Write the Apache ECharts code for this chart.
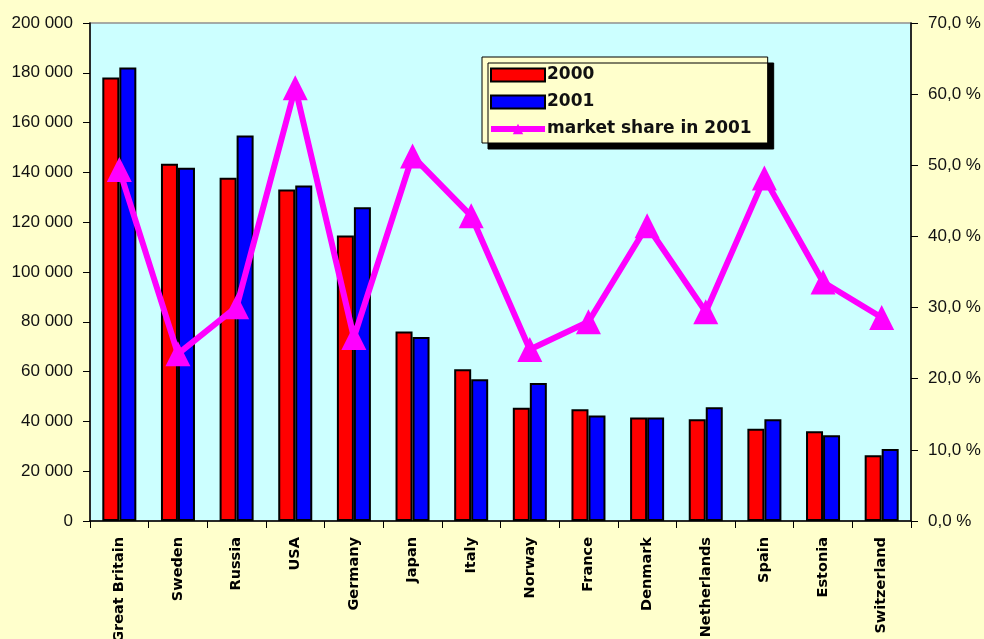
<!DOCTYPE html>
<html>
<head>
<meta charset="utf-8">
<script src="https://cdn.jsdelivr.net/npm/echarts@6/dist/echarts.min.js"></script>
<style>
html,body{margin:0;padding:0;background:#FFFFCC;}
#chart{width:984px;height:639px;}
</style>
</head>
<body>
<div id="chart"></div>
<script>
const categories = ['Great Britain','Sweden','Russia','USA','Germany','Japan','Italy','Norway','France','Denmark','Netherlands','Spain','Estonia','Switzerland'];
const values2000 = [178100,143500,137900,133100,114700,76100,60900,45500,44900,41600,40900,37000,36000,26400];
const values2001 = [182100,141900,154800,134700,126000,73900,56900,55400,42400,41600,45700,40900,34400,28900];
const marketShare2001 = [49.4,23.5,30.1,60.9,25.8,51.3,42.9,24.1,28.0,41.5,29.4,48.2,33.6,28.6];
const leftTicks = {min:0, max:200000, interval:20000};
const rightTicks = {min:0, max:70, interval:10};

const chart = echarts.init(document.getElementById('chart'), null, {renderer:'canvas'});
const fmtThousands = v => String(v).replace(/\B(?=(\d{3})+(?!\d))/g, ' ');
const option = {
  backgroundColor:'#FFFFCC',
  animation:false,
  grid:{left:90,right:73,top:23,bottom:118,show:true,containLabel:false,outerBoundsMode:'none',
        backgroundColor:'#CCFFFF',borderColor:'#909090',borderWidth:1.5},
  legend:{
    left:482, top:57, orient:'vertical',
    padding:[9,16,5,6],
    itemWidth:54, itemHeight:13, itemGap:9,
    backgroundColor:'#FFFFCC', borderColor:'#000', borderWidth:1,
    shadowColor:'#000', shadowBlur:0, shadowOffsetX:6, shadowOffsetY:6,
    textStyle:{fontFamily:'DejaVu Sans',fontWeight:'bold',fontSize:17,color:'#111',lineHeight:18,padding:[0,0,0,-3]},
    data:[
      {name:'2000',icon:'rect'},
      {name:'2001',icon:'rect'},
      {name:'market share in 2001',itemStyle:{color:'#FF00FF'},lineStyle:{color:'#FF00FF',width:6}}
    ]
  },
  xAxis:{
    type:'category', data:categories,
    axisLine:{lineStyle:{color:'#000',width:1.5}},
    axisTick:{show:true,length:7,lineStyle:{color:'#000'}},
    axisLabel:{rotate:90,margin:16,fontFamily:'DejaVu Sans',fontWeight:'bold',fontSize:14.5,color:'#000',interval:0}
  },
  yAxis:[
    {type:'value',min:leftTicks.min,max:leftTicks.max,interval:leftTicks.interval,
     axisLine:{show:true,lineStyle:{color:'#000',width:1.5}},
     axisTick:{show:true,length:7,lineStyle:{color:'#000'}},
     splitLine:{show:false},
     axisLabel:{margin:17,fontFamily:'"Liberation Sans", Arial, sans-serif',fontSize:17,color:'#111',formatter:v=>fmtThousands(v)}},
    {type:'value',min:rightTicks.min,max:rightTicks.max,interval:rightTicks.interval,position:'right',
     axisLine:{show:true,lineStyle:{color:'#000',width:1.5}},
     axisTick:{show:true,length:7,lineStyle:{color:'#000'}},
     splitLine:{show:false},
     axisLabel:{margin:17,fontFamily:'"Liberation Sans", Arial, sans-serif',fontSize:17,color:'#111',formatter:v=>v.toFixed(1).replace('.',',')+' %'}}
  ],
  series:[
    {name:'2000',type:'bar',data:values2000,barGap:'0%',barCategoryGap:'42%',
     itemStyle:{color:'#FF0000',borderColor:'#000',borderWidth:2}},
    {name:'2001',type:'bar',data:values2001,barGap:'0%',barCategoryGap:'42%',
     itemStyle:{color:'#0000FF',borderColor:'#000',borderWidth:2}},
    {name:'market share in 2001',type:'line',yAxisIndex:1,data:marketShare2001,z:5,
     symbol:'triangle',symbolSize:[25,25],
     lineStyle:{color:'#FF00FF',width:6},
     itemStyle:{color:'#FF00FF'}}
  ]
};
chart.setOption(option);
</script>
</body>
</html>
